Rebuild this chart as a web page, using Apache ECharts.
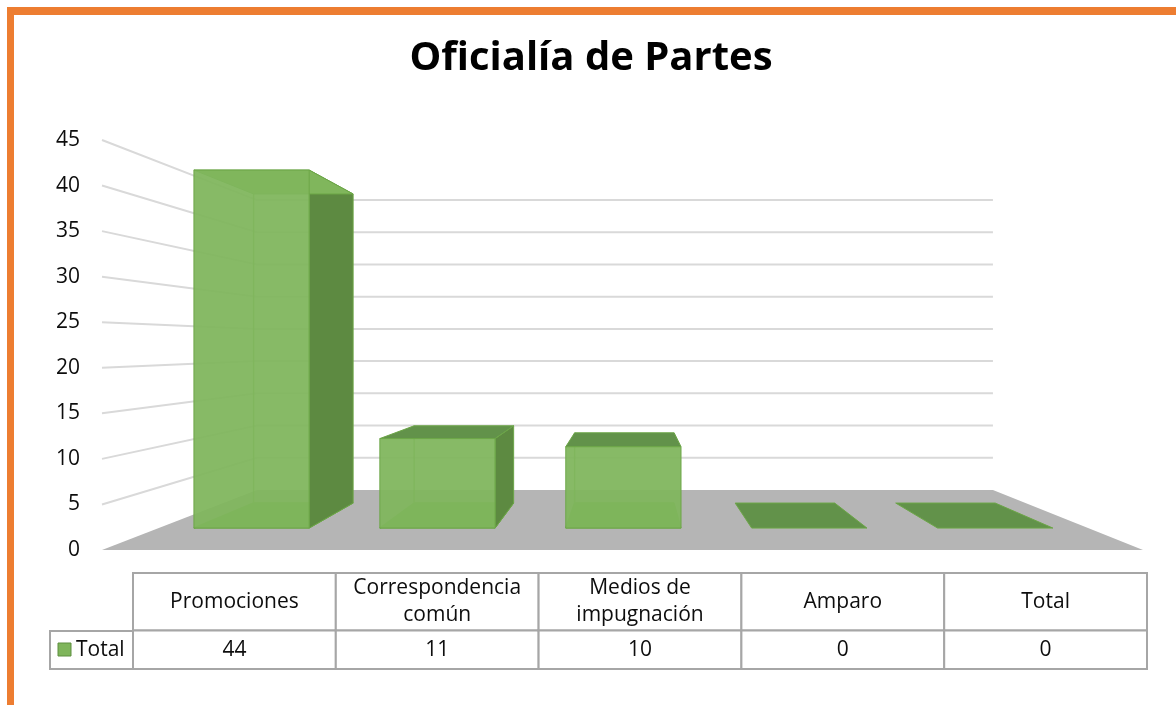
<!DOCTYPE html>
<html>
<head>
<meta charset="utf-8">
<title>Oficialía de Partes</title>
<script src="https://cdn.jsdelivr.net/npm/echarts@6/dist/echarts.min.js"></script>
<style>
  html, body { margin: 0; padding: 0; background: #fff; }
  #chart { width: 1176px; height: 705px; }
</style>
</head>
<body>
<div id="chart"></div>
<script>
const CATEGORIES = ['Promociones', 'Correspondencia\ncomún', 'Medios de\nimpugnación', 'Amparo', 'Total']
const TOTALS = [44, 11, 10, 0, 0]
const SERIES_NAME = 'Total'
const Y_MAX = 45
const Y_STEP = 5

const FONT = '"Open Sans", sans-serif'
const TEXT = '#0d0d0d'
const ORANGE = '#ed7d31'
const WALL_LINE = '#d9d9d9'
const FLOOR = '#b5b5b5'
const TABLE_LINE = '#a6a6a6'
const FRONT = '#80b65c'
const SIDE = '#5d8a41'
const TOP_DARK = '#62924a'
const EDGE = '#6ca647'

// fake perspective: 1 = front plane of the grid, smaller = deeper
const VANISH_X = 0.508
const S_BACK = 0.707
const S_BAR_FRONT = 0.893
const S_BAR_BACK = 0.771
const BAR_RATIO = 0.62

function vanish(cs) {
  return [cs.x + cs.width * VANISH_X, cs.y + cs.height / 2]
}

function proj(cs, p, s) {
  const v = vanish(cs)
  return [v[0] + (p[0] - v[0]) * s, v[1] + (p[1] - v[1]) * s]
}

const poly = (points, fill, opacity) => ({
  type: 'polygon',
  shape: { points },
  style: { fill, opacity: opacity == null ? 1 : opacity, stroke: EDGE, lineWidth: 1 }
})

function renderWall(params, api) {
  const cs = params.coordSys
  const y = api.coord([0, api.value(0)])[1]
  const left = [cs.x, y]
  const right = [cs.x + cs.width, y]
  return {
    type: 'polyline',
    shape: { points: [left, proj(cs, left, S_BACK), proj(cs, right, S_BACK)] },
    style: { stroke: WALL_LINE, lineWidth: 2, fill: null }
  }
}

function renderFloor(params, api) {
  const cs = params.coordSys
  const y = api.coord([0, 0])[1]
  const fl = [cs.x, y], fr = [cs.x + cs.width, y]
  return {
    type: 'polygon',
    shape: { points: [fl, fr, proj(cs, fr, S_BACK), proj(cs, fl, S_BACK)] },
    style: { fill: FLOOR }
  }
}

function renderBar(params, api) {
  const cs = params.coordSys
  const i = api.value(0), val = api.value(1)
  const base = api.coord([i, 0]), top = api.coord([i, val])
  const half = api.size([1, 0])[0] * BAR_RATIO / 2
  const xl = base[0] - half, xr = base[0] + half
  const box = s => ({
    lb: proj(cs, [xl, base[1]], s), rb: proj(cs, [xr, base[1]], s),
    rt: proj(cs, [xr, top[1]], s), lt: proj(cs, [xl, top[1]], s)
  })
  const f = box(S_BAR_FRONT), b = box(S_BAR_BACK)
  const v = vanish(cs)
  const children = []
  if (val > 0) {
    children.push(poly([f.lb, f.rb, b.rb, b.lb], '#6ba348', 1))
    // back edges show through the glassy bar
    children.push({
      type: 'polyline',
      shape: { points: [b.lt, b.lb, b.rb] },
      style: { stroke: EDGE, lineWidth: 1.5, fill: null, opacity: 0.8 }
    })
    children.push({
      type: 'line',
      shape: { x1: f.lb[0], y1: f.lb[1], x2: b.lb[0], y2: b.lb[1] },
      style: { stroke: EDGE, lineWidth: 1.5, opacity: 0.8 }
    })
    if (xr < v[0]) children.push(poly([f.rb, b.rb, b.rt, f.rt], SIDE))
    else if (xl > v[0]) children.push(poly([f.lb, b.lb, b.lt, f.lt], SIDE))
  }
  const fromAbove = top[1] > v[1]
  children.push(poly([f.lt, f.rt, b.rt, b.lt], fromAbove ? TOP_DARK : FRONT))
  if (val > 0) children.push(poly([f.lb, f.rb, f.rt, f.lt], FRONT, 0.94))
  return { type: 'group', children }
}

function renderCell(params, api) {
  const cs = params.coordSys
  const i = api.value(0)
  const cx = api.coord([i, 0])[0]
  const w = api.size([1, 0])[0]
  const x = cx - w / 2
  const headH = cs.height * 0.6
  const rowH = cs.height - headH
  const cellStyle = { fill: '#fff', stroke: TABLE_LINE, lineWidth: 2 }
  const textStyle = { fill: TEXT, fontSize: 21, fontFamily: FONT, align: 'center', verticalAlign: 'middle', lineHeight: 27 }
  return {
    type: 'group',
    children: [
      { type: 'rect', shape: { x, y: cs.y, width: w, height: headH }, style: cellStyle },
      { type: 'rect', shape: { x, y: cs.y + headH, width: w, height: rowH }, style: cellStyle },
      { type: 'text', x: cx, y: cs.y + headH / 2, style: Object.assign({ text: CATEGORIES[i] }, textStyle) },
      { type: 'text', x: cx, y: cs.y + headH + rowH / 2, style: Object.assign({ text: String(api.value(1)) }, textStyle) }
    ]
  }
}

const wallTicks = []
for (let t = Y_STEP; t <= Y_MAX; t += Y_STEP) wallTicks.push([t])

const chart = echarts.init(document.getElementById('chart'), null, { renderer: 'canvas' })

chart.setOption({
  animation: false,
  backgroundColor: '#fff',
  grid: [
    { left: 102, right: 33, top: 140, bottom: 155 },
    { left: 133, right: 29, top: 573, bottom: 36 }
  ],
  xAxis: [
    { type: 'category', gridIndex: 0, data: CATEGORIES, show: false },
    { type: 'category', gridIndex: 1, data: CATEGORIES, show: false }
  ],
  yAxis: [
    {
      type: 'value',
      gridIndex: 0,
      min: 0,
      max: Y_MAX,
      interval: Y_STEP,
      axisLine: { show: false },
      axisTick: { show: false },
      splitLine: { show: false },
      axisLabel: { color: TEXT, fontSize: 21, fontFamily: FONT, margin: 22 }
    },
    { type: 'value', gridIndex: 1, min: 0, max: 1, show: false }
  ],
  graphic: [
    { type: 'rect', shape: { x: 7, y: 7, width: 1169, height: 8 }, style: { fill: ORANGE }, z: 10 },
    { type: 'rect', shape: { x: 7, y: 7, width: 7, height: 698 }, style: { fill: ORANGE }, z: 10 },
    {
      type: 'text', x: 591, y: 59,
      style: { text: 'Oficialía de Partes', fill: '#000', fontSize: 40, fontWeight: 'bold', fontFamily: FONT, align: 'center', verticalAlign: 'middle' }
    },
    { type: 'rect', shape: { x: 50, y: 631, width: 83, height: 38 }, style: { fill: '#fff', stroke: TABLE_LINE, lineWidth: 2 } },
    { type: 'rect', shape: { x: 58, y: 643, width: 13, height: 13 }, style: { fill: '#7fb55b', stroke: '#5f8f41', lineWidth: 1 } },
    { type: 'text', x: 76, y: 650, style: { text: SERIES_NAME, fill: TEXT, fontSize: 21, fontFamily: FONT, align: 'left', verticalAlign: 'middle' } }
  ],
  series: [
    { type: 'custom', name: 'walls', xAxisIndex: 0, yAxisIndex: 0, renderItem: renderWall, data: wallTicks, z: 1, silent: true },
    { type: 'custom', name: 'floor', xAxisIndex: 0, yAxisIndex: 0, renderItem: renderFloor, data: [[0]], z: 2, silent: true },
    { type: 'custom', name: SERIES_NAME, xAxisIndex: 0, yAxisIndex: 0, renderItem: renderBar, data: TOTALS.map((v, i) => [i, v]), z: 3 },
    { type: 'custom', name: 'table', xAxisIndex: 1, yAxisIndex: 1, renderItem: renderCell, data: TOTALS.map((v, i) => [i, v]), z: 4 }
  ]
})
</script>
</body>
</html>
